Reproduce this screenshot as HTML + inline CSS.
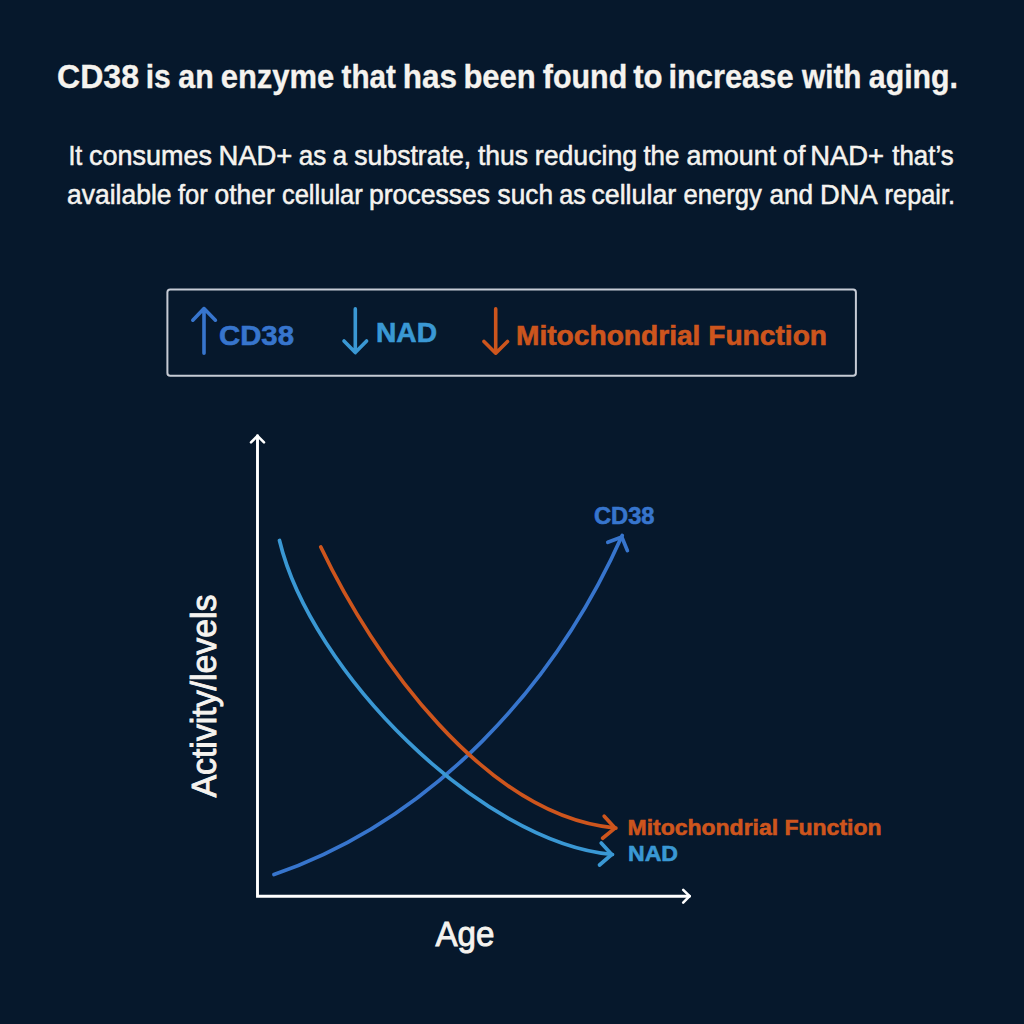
<!DOCTYPE html>
<html><head><meta charset="utf-8">
<style>
html,body{margin:0;padding:0;background:#06182c;}
body{width:1024px;height:1024px;overflow:hidden;}
svg{display:block;}
text{font-family:"Liberation Sans",sans-serif;}
</style></head>
<body>
<svg width="1024" height="1024" viewBox="0 0 1024 1024">
<rect x="0" y="0" width="1024" height="1024" fill="#06182c"/>
<text x="57.0" y="88.2" font-size="33.1" font-weight="bold" fill="#f5f3ef" stroke="#f5f3ef" stroke-width="0.35" textLength="82.0" lengthAdjust="spacingAndGlyphs">CD38</text>
<text x="145.8" y="88.2" font-size="33.1" font-weight="bold" fill="#f5f3ef" stroke="#f5f3ef" stroke-width="0.35" textLength="25.0" lengthAdjust="spacingAndGlyphs">is</text>
<text x="178.3" y="88.2" font-size="33.1" font-weight="bold" fill="#f5f3ef" stroke="#f5f3ef" stroke-width="0.35" textLength="35.4" lengthAdjust="spacingAndGlyphs">an</text>
<text x="220.7" y="88.2" font-size="33.1" font-weight="bold" fill="#f5f3ef" stroke="#f5f3ef" stroke-width="0.35" textLength="113.5" lengthAdjust="spacingAndGlyphs">enzyme</text>
<text x="341.6" y="88.2" font-size="33.1" font-weight="bold" fill="#f5f3ef" stroke="#f5f3ef" stroke-width="0.35" textLength="54.4" lengthAdjust="spacingAndGlyphs">that</text>
<text x="402.7" y="88.2" font-size="33.1" font-weight="bold" fill="#f5f3ef" stroke="#f5f3ef" stroke-width="0.35" textLength="54.2" lengthAdjust="spacingAndGlyphs">has</text>
<text x="463.4" y="88.2" font-size="33.1" font-weight="bold" fill="#f5f3ef" stroke="#f5f3ef" stroke-width="0.35" textLength="72.4" lengthAdjust="spacingAndGlyphs">been</text>
<text x="542.8" y="88.2" font-size="33.1" font-weight="bold" fill="#f5f3ef" stroke="#f5f3ef" stroke-width="0.35" textLength="84.5" lengthAdjust="spacingAndGlyphs">found</text>
<text x="633.2" y="88.2" font-size="33.1" font-weight="bold" fill="#f5f3ef" stroke="#f5f3ef" stroke-width="0.35" textLength="29.4" lengthAdjust="spacingAndGlyphs">to</text>
<text x="668.4" y="88.2" font-size="33.1" font-weight="bold" fill="#f5f3ef" stroke="#f5f3ef" stroke-width="0.35" textLength="125.2" lengthAdjust="spacingAndGlyphs">increase</text>
<text x="802.1" y="88.2" font-size="33.1" font-weight="bold" fill="#f5f3ef" stroke="#f5f3ef" stroke-width="0.35" textLength="59.3" lengthAdjust="spacingAndGlyphs">with</text>
<text x="868.8" y="88.2" font-size="33.1" font-weight="bold" fill="#f5f3ef" stroke="#f5f3ef" stroke-width="0.35" textLength="89.2" lengthAdjust="spacingAndGlyphs">aging.</text>
<text x="68.4" y="165.3" font-size="28.5" font-weight="normal" fill="#f5f3ef" stroke="#f5f3ef" stroke-width="0.55" textLength="13.9" lengthAdjust="spacingAndGlyphs">It</text>
<text x="89.1" y="165.3" font-size="28.5" font-weight="normal" fill="#f5f3ef" stroke="#f5f3ef" stroke-width="0.55" textLength="122.9" lengthAdjust="spacingAndGlyphs">consumes</text>
<text x="218.4" y="165.3" font-size="28.5" font-weight="normal" fill="#f5f3ef" stroke="#f5f3ef" stroke-width="0.55" textLength="74.0" lengthAdjust="spacingAndGlyphs">NAD+</text>
<text x="298.7" y="165.3" font-size="28.5" font-weight="normal" fill="#f5f3ef" stroke="#f5f3ef" stroke-width="0.55" textLength="27.5" lengthAdjust="spacingAndGlyphs">as</text>
<text x="332.8" y="165.3" font-size="28.5" font-weight="normal" fill="#f5f3ef" stroke="#f5f3ef" stroke-width="0.55" textLength="14.4" lengthAdjust="spacingAndGlyphs">a</text>
<text x="354.3" y="165.3" font-size="28.5" font-weight="normal" fill="#f5f3ef" stroke="#f5f3ef" stroke-width="0.55" textLength="116.8" lengthAdjust="spacingAndGlyphs">substrate,</text>
<text x="478.0" y="165.3" font-size="28.5" font-weight="normal" fill="#f5f3ef" stroke="#f5f3ef" stroke-width="0.55" textLength="50.1" lengthAdjust="spacingAndGlyphs">thus</text>
<text x="534.8" y="165.3" font-size="28.5" font-weight="normal" fill="#f5f3ef" stroke="#f5f3ef" stroke-width="0.55" textLength="102.3" lengthAdjust="spacingAndGlyphs">reducing</text>
<text x="643.4" y="165.3" font-size="28.5" font-weight="normal" fill="#f5f3ef" stroke="#f5f3ef" stroke-width="0.55" textLength="36.0" lengthAdjust="spacingAndGlyphs">the</text>
<text x="686.5" y="165.3" font-size="28.5" font-weight="normal" fill="#f5f3ef" stroke="#f5f3ef" stroke-width="0.55" textLength="89.7" lengthAdjust="spacingAndGlyphs">amount</text>
<text x="783.1" y="165.3" font-size="28.5" font-weight="normal" fill="#f5f3ef" stroke="#f5f3ef" stroke-width="0.55" textLength="22.3" lengthAdjust="spacingAndGlyphs">of</text>
<text x="810.3" y="165.3" font-size="28.5" font-weight="normal" fill="#f5f3ef" stroke="#f5f3ef" stroke-width="0.55" textLength="73.8" lengthAdjust="spacingAndGlyphs">NAD+</text>
<text x="892.3" y="165.3" font-size="28.5" font-weight="normal" fill="#f5f3ef" stroke="#f5f3ef" stroke-width="0.55" textLength="61.3" lengthAdjust="spacingAndGlyphs">that’s</text>
<text x="67.1" y="204.3" font-size="28.5" font-weight="normal" fill="#f5f3ef" stroke="#f5f3ef" stroke-width="0.55" textLength="104.4" lengthAdjust="spacingAndGlyphs">available</text>
<text x="177.9" y="204.3" font-size="28.5" font-weight="normal" fill="#f5f3ef" stroke="#f5f3ef" stroke-width="0.55" textLength="29.8" lengthAdjust="spacingAndGlyphs">for</text>
<text x="214.6" y="204.3" font-size="28.5" font-weight="normal" fill="#f5f3ef" stroke="#f5f3ef" stroke-width="0.55" textLength="60.2" lengthAdjust="spacingAndGlyphs">other</text>
<text x="281.9" y="204.3" font-size="28.5" font-weight="normal" fill="#f5f3ef" stroke="#f5f3ef" stroke-width="0.55" textLength="80.9" lengthAdjust="spacingAndGlyphs">cellular</text>
<text x="369.0" y="204.3" font-size="28.5" font-weight="normal" fill="#f5f3ef" stroke="#f5f3ef" stroke-width="0.55" textLength="121.1" lengthAdjust="spacingAndGlyphs">processes</text>
<text x="497.6" y="204.3" font-size="28.5" font-weight="normal" fill="#f5f3ef" stroke="#f5f3ef" stroke-width="0.55" textLength="55.4" lengthAdjust="spacingAndGlyphs">such</text>
<text x="559.2" y="204.3" font-size="28.5" font-weight="normal" fill="#f5f3ef" stroke="#f5f3ef" stroke-width="0.55" textLength="26.5" lengthAdjust="spacingAndGlyphs">as</text>
<text x="591.4" y="204.3" font-size="28.5" font-weight="normal" fill="#f5f3ef" stroke="#f5f3ef" stroke-width="0.55" textLength="84.8" lengthAdjust="spacingAndGlyphs">cellular</text>
<text x="683.6" y="204.3" font-size="28.5" font-weight="normal" fill="#f5f3ef" stroke="#f5f3ef" stroke-width="0.55" textLength="78.3" lengthAdjust="spacingAndGlyphs">energy</text>
<text x="769.5" y="204.3" font-size="28.5" font-weight="normal" fill="#f5f3ef" stroke="#f5f3ef" stroke-width="0.55" textLength="43.6" lengthAdjust="spacingAndGlyphs">and</text>
<text x="820.1" y="204.3" font-size="28.5" font-weight="normal" fill="#f5f3ef" stroke="#f5f3ef" stroke-width="0.55" textLength="57.6" lengthAdjust="spacingAndGlyphs">DNA</text>
<text x="884.6" y="204.3" font-size="28.5" font-weight="normal" fill="#f5f3ef" stroke="#f5f3ef" stroke-width="0.55" textLength="70.5" lengthAdjust="spacingAndGlyphs">repair.</text>
<rect x="167.4" y="289.5" width="688.5" height="86.3" rx="2.8" ry="2.8" fill="none" stroke="#c6cbd5" stroke-width="2"/>
<g fill="none" stroke-width="3.6" stroke-linecap="round" stroke-linejoin="round">
  <path d="M204 353.3 L204 308.6 M192.8 320.2 L204 308.6 L215.4 320.2" stroke="#3775cd"/>
  <path d="M355.3 308.9 L355.3 352.6 M344 341 L355.3 352.6 L366.6 341" stroke="#3a98d4"/>
  <path d="M495.7 308.9 L495.7 353.2 M484 341.4 L495.7 353.2 L507.5 341.4" stroke="#cd551d"/>
</g>
<text x="219" y="345" font-size="27.6" font-weight="bold" fill="#3775cd" stroke="#3775cd" stroke-width="0.6" textLength="75" lengthAdjust="spacingAndGlyphs">CD38</text>
<text x="376" y="342" font-size="27.6" font-weight="bold" fill="#3a98d4" stroke="#3a98d4" stroke-width="0.6" textLength="61" lengthAdjust="spacingAndGlyphs">NAD</text>
<text x="516" y="344.7" font-size="27.6" font-weight="bold" fill="#cd551d" stroke="#cd551d" stroke-width="0.6" textLength="311" lengthAdjust="spacingAndGlyphs">Mitochondrial Function</text>
<g fill="none" stroke="#ffffff" stroke-width="2.9" stroke-linecap="round" stroke-linejoin="round">
  <path d="M257.5 435.8 L257.5 896.2 L689.6 896.2" stroke-linejoin="miter"/>
  <path d="M251 442.3 L257.5 435.8 L264 442.3" stroke-width="2.6"/>
  <path d="M683.2 889.8 L689.6 896.2 L683.2 902.6" stroke-width="2.6"/>
</g>
<g fill="none" stroke-width="3.7" stroke-linecap="round" stroke-linejoin="round">
  <path d="M274.0 874.6 C432.7 819.6 554.8 686.6 622.2 535.5" stroke="#3775cd"/>
  <path d="M607.8 542.3 L621.8 537 L627.4 550.6" stroke="#3775cd"/>
  <path d="M279.5 540.5 C310.6 670.6 479.7 842.2 612.5 854.5" stroke="#3a98d4"/>
  <path d="M601.2 843 L611.7 854.5 L599.5 865" stroke="#3a98d4"/>
  <path d="M320.8 547.0 C373.0 657.0 484.9 816.3 615.9 828.1" stroke="#cd551d"/>
  <path d="M604.2 816.2 L615.0 828.1 L602.6 838.2" stroke="#cd551d"/>
</g>
<text x="594" y="523.6" font-size="23.6" font-weight="bold" fill="#3775cd" stroke="#3775cd" stroke-width="0.6" textLength="60.5" lengthAdjust="spacingAndGlyphs">CD38</text>
<text x="627.5" y="835.3" font-size="22.3" font-weight="bold" fill="#cd551d" stroke="#cd551d" stroke-width="0.6" textLength="254" lengthAdjust="spacingAndGlyphs">Mitochondrial Function</text>
<text x="628" y="861" font-size="22.3" font-weight="bold" fill="#3a98d4" stroke="#3a98d4" stroke-width="0.6" textLength="50" lengthAdjust="spacingAndGlyphs">NAD</text>
<text transform="translate(216 797.5) rotate(-90)" x="0" y="0" font-size="35" fill="#f5f3ef" stroke="#f5f3ef" stroke-width="0.9" textLength="203" lengthAdjust="spacingAndGlyphs">Activity/levels</text>
<text x="435.5" y="945.7" font-size="35" fill="#f5f3ef" stroke="#f5f3ef" stroke-width="0.9" textLength="59" lengthAdjust="spacingAndGlyphs">Age</text>
</svg>
</body></html>
